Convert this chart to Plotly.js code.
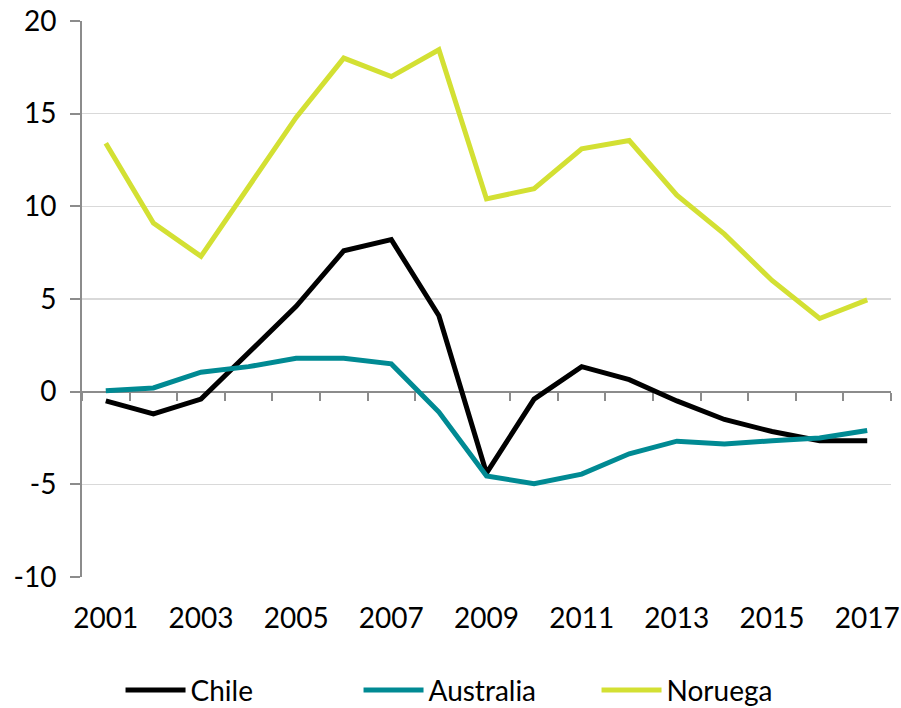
<!DOCTYPE html>
<html>
<head>
<meta charset="utf-8">
<script src="https://cdn.plot.ly/plotly-3.0.1.min.js"></script>
<style>html,body{margin:0;padding:0;background:#fff;}#chart{width:901px;height:708px;}</style>
</head>
<body>
<div id="chart"></div>
<script>
const years = [2001,2002,2003,2004,2005,2006,2007,2008,2009,2010,2011,2012,2013,2014,2015,2016,2017];
const chile = [-0.5,-1.2,-0.4,2.1,4.6,7.6,8.2,4.1,-4.4,-0.4,1.35,0.65,-0.5,-1.5,-2.15,-2.65,-2.65];
const australia = [0.05,0.2,1.05,1.35,1.8,1.8,1.5,-1.1,-4.55,-4.97,-4.45,-3.35,-2.67,-2.82,-2.65,-2.5,-2.1];
const noruega = [13.4,9.1,7.3,11.05,14.8,18.0,17.0,18.45,10.4,10.95,13.1,13.55,10.6,8.5,6.0,3.95,4.95];
const xTickVals = [2001,2003,2005,2007,2009,2011,2013,2015,2017];
const yTickVals = [-10,-5,0,5,10,15,20];
const yTickText = ['-10','-5','0','5','10','15','20'];
const boundaryTicks = [2000.5,2001.5,2002.5,2003.5,2004.5,2005.5,2006.5,2007.5,2008.5,2009.5,2010.5,2011.5,2012.5,2013.5,2014.5,2015.5,2016.5,2017.5];

const font = {family: 'Lato, "Open Sans", sans-serif', size: 28, color: '#000'};
const traces = [
  {x: years, y: chile, name: 'Chile', type: 'scatter', mode: 'lines', line: {color: '#000000', width: 5}},
  {x: years, y: australia, name: 'Australia', type: 'scatter', mode: 'lines', line: {color: '#008A93', width: 5}},
  {x: years, y: noruega, name: 'Noruega', type: 'scatter', mode: 'lines', xaxis: 'x2', line: {color: '#D3E033', width: 5}}
];
const layout = {
  width: 901, height: 708,
  margin: {l: 82, r: 10, t: 21, b: 131},
  paper_bgcolor: '#fff', plot_bgcolor: '#fff',
  font: font,
  showlegend: true,
  legend: {orientation: 'h', x: 0.53, xanchor: 'center', xref: 'container', yref: 'container', y: 0.025, yanchor: 'middle',
           font: font, itemwidth: 60, entrywidth: 163, traceorder: 'normal'},
  xaxis: {range: [2000.5, 2017.5], tickvals: xTickVals, ticktext: xTickVals.map(String), showgrid: false, zeroline: false,
          showline: false, ticks: '', ticklabelstandoff: 22, tickfont: font},
  xaxis2: {overlaying: 'x', matches: 'x', anchor: 'free', position: 1/3, range: [2000.5, 2017.5], showgrid: false, zeroline: false,
           showline: true, linecolor: '#8C8C8C', linewidth: 2, ticks: 'outside', ticklen: 8, tickwidth: 2, tickcolor: '#8C8C8C',
           tickvals: boundaryTicks, showticklabels: false, layer: 'below traces'},
  yaxis: {range: [-10, 20], tickvals: yTickVals, ticktext: yTickText, showgrid: true, gridcolor: '#D9D9D9', gridwidth: 1.5, zeroline: false,
          showline: true, linecolor: '#8C8C8C', linewidth: 2, ticks: 'outside', ticklen: 10, tickwidth: 2, tickcolor: '#8C8C8C',
          ticklabelstandoff: 8, tickfont: font}
};
Plotly.newPlot('chart', traces, layout, {displayModeBar: false, staticPlot: true});
</script>
</body>
</html>
